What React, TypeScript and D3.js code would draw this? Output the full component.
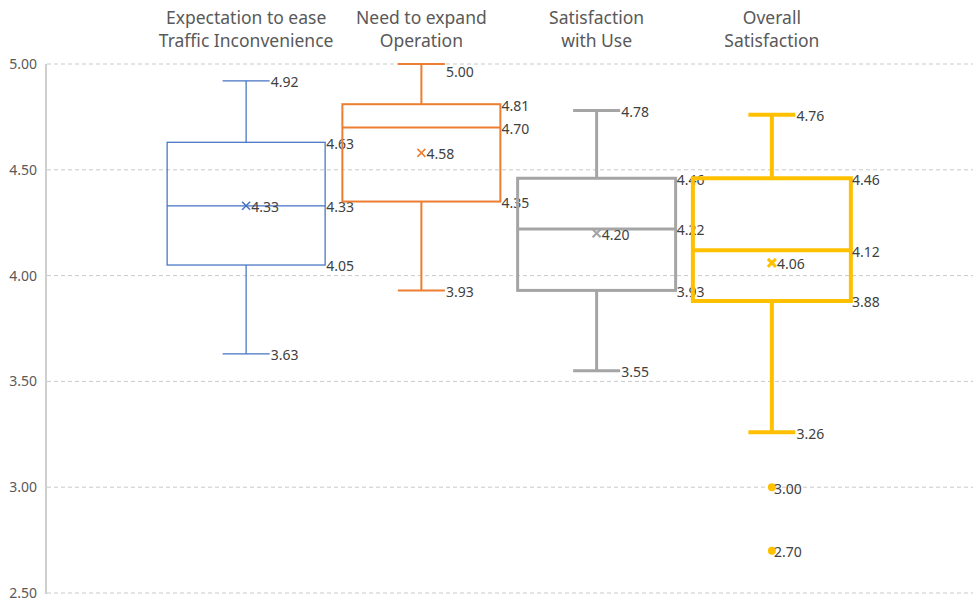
import React from "react";
import * as d3 from "d3";

const seriesNames = ["s1", "s2", "s3", "s4"];
const titleLines = [
  ["Expectation to ease", "Traffic Inconvenience"],
  ["Need to expand", "Operation"],
  ["Satisfaction", "with Use"],
  ["Overall", "Satisfaction"],
];
const mins = [3.63, 3.93, 3.55, 3.26];
const q1s = [4.05, 4.35, 3.93, 3.88];
const medians = [4.33, 4.70, 4.22, 4.12];
const q3s = [4.63, 4.81, 4.46, 4.46];
const maxs = [4.92, 5.0, 4.78, 4.76];
const means = [4.33, 4.58, 4.20, 4.06];
const outliers = [[], [], [], [3.0, 2.7]];
const colors = ["#4472C4", "#ED7D31", "#A5A5A5", "#FFC000"];
const strokeWidths = [1.25, 2, 3, 4];
const yTicks = [2.5, 3.0, 3.5, 4.0, 4.5, 5.0];

const W = 973;
const H = 604;
const FONT = "'Segoe UI', 'Noto Sans', 'Open Sans', sans-serif";

export default function App() {
  const y = d3.scaleLinear().domain([2.5, 5.0]).range([593, 64]);
  const x = d3.scaleBand().domain(seriesNames).range([158.5, 859.5]).paddingInner(0).paddingOuter(0);
  const boxW = 158;
  const capW = 47;
  const fmt = d3.format(".2f");
  const labelY = (v: number) => {
    const py = y(v);
    return py < 68 ? py + 8 : py + 1.5;
  };

  return (
    <svg width={W} height={H} style={{ display: "block", position: "absolute", left: 0, top: 0 }} fontFamily={FONT}>
      <rect width={W} height={H} fill="#fff" />
      {yTicks.map((t) => (
        <g key={t}>
          <line x1={47} x2={973} y1={y(t)} y2={y(t)} stroke="#c9c9c9" strokeWidth={1} strokeDasharray="4,3" />
          <text x={37} y={y(t)} dy="0.35em" textAnchor="end" fontSize={14} fill="#595959">
            {fmt(t)}
          </text>
        </g>
      ))}
      <line x1={46} x2={46} y1={64} y2={594} stroke="#bfbfbf" strokeWidth={1.5} />
      {seriesNames.map((s, i) => {
        const cx = (x(s) as number) + x.bandwidth() / 2;
        const left = cx - boxW / 2;
        const right = cx + boxW / 2;
        const c = colors[i];
        const sw = strokeWidths[i];
        const m = 4;
        return (
          <g key={s}>
            {titleLines[i].map((ln, k) => (
              <text key={k} x={cx} y={18 + k * 23} dy="0.35em" textAnchor="middle" fontSize={17.5} fill="#595959">
                {ln}
              </text>
            ))}
            <line x1={cx} x2={cx} y1={y(maxs[i])} y2={y(q3s[i])} stroke={c} strokeWidth={sw} />
            <line x1={cx} x2={cx} y1={y(q1s[i])} y2={y(mins[i])} stroke={c} strokeWidth={sw} />
            <line x1={cx - capW / 2} x2={cx + capW / 2} y1={y(maxs[i])} y2={y(maxs[i])} stroke={c} strokeWidth={sw} />
            <line x1={cx - capW / 2} x2={cx + capW / 2} y1={y(mins[i])} y2={y(mins[i])} stroke={c} strokeWidth={sw} />
            <rect x={left} y={y(q3s[i])} width={boxW} height={y(q1s[i]) - y(q3s[i])} fill="none" stroke={c} strokeWidth={sw} />
            <line x1={left} x2={right} y1={y(medians[i])} y2={y(medians[i])} stroke={c} strokeWidth={sw} />
            <path
              d={`M${cx - m},${y(means[i]) - m}L${cx + m},${y(means[i]) + m}M${cx - m},${y(means[i]) + m}L${cx + m},${y(means[i]) - m}`}
              stroke={c}
              strokeWidth={Math.max(1.5, sw * 0.75)}
              fill="none"
            />
            {outliers[i].map((o, k) => (
              <circle key={k} cx={cx} cy={y(o)} r={4} fill={c} />
            ))}
            <g fontSize={14} fill="#404040">
              <text x={cx + capW / 2 + 1} y={labelY(maxs[i])} dy="0.35em">{fmt(maxs[i])}</text>
              <text x={cx + capW / 2 + 1} y={labelY(mins[i])} dy="0.35em">{fmt(mins[i])}</text>
              <text x={right + 1} y={labelY(q3s[i])} dy="0.35em">{fmt(q3s[i])}</text>
              <text x={right + 1} y={labelY(medians[i])} dy="0.35em">{fmt(medians[i])}</text>
              <text x={right + 1} y={labelY(q1s[i])} dy="0.35em">{fmt(q1s[i])}</text>
              <text x={cx + 5} y={labelY(means[i])} dy="0.35em">{fmt(means[i])}</text>
              {outliers[i].map((o, k) => (
                <text key={k} x={cx + 2} y={labelY(o)} dy="0.35em">{fmt(o)}</text>
              ))}
            </g>
          </g>
        );
      })}
    </svg>
  );
}
